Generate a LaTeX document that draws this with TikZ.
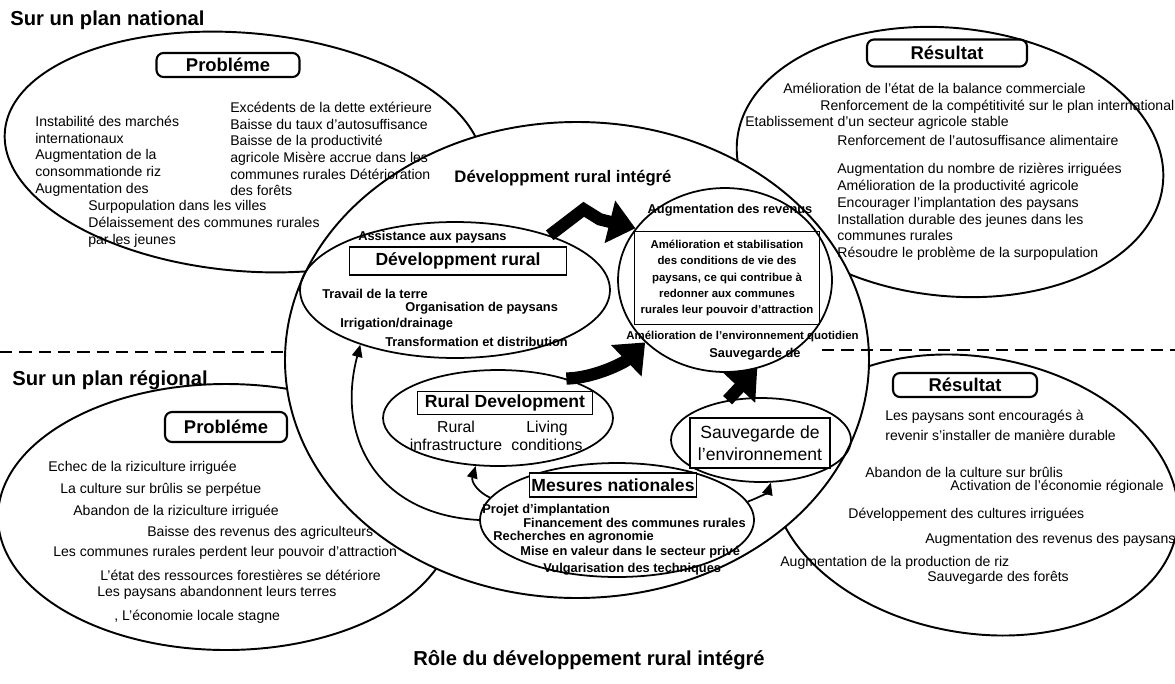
\documentclass[tikz,border=0pt]{standalone}
\usepackage{fontspec}
\setmainfont{Liberation Sans}
\usepackage{tikz}
\tikzset{
     arrow/.style={-{Triangle[length=7pt,width=6pt]}, line width=1pt},
     bigarrow/.style={-{Triangle[length=15pt,width=24pt]}, line width=7pt, line join=miter},
     txt/.style={anchor=west, inner sep=0pt, align=left, font=\fontsize{8}{9.5}\selectfont},
     btxt/.style={txt, font=\fontsize{7.3}{9}\selectfont\bfseries},
     titre/.style={inner sep=0pt, font=\fontsize{11.5}{13}\selectfont\bfseries},
     cadre/.style={draw, line width=1.2pt, rounded corners=4pt, inner sep=0pt, font=\fontsize{10.5}{12}\selectfont\bfseries},
     boite/.style={draw, fill=white, line width=0.9pt, inner sep=0pt, font=\fontsize{10}{12}\selectfont\bfseries},
     bulle/.style={draw, ellipse, line width=1pt, inner sep=0pt},
     contour/.style={line width=1.1pt}
     }
\usetikzlibrary{arrows.meta}
\usetikzlibrary{shapes.geometric}

\begin{document}
\begin{tikzpicture}[x=0.02cm, y=-0.02cm]
                    \useasboundingbox (0,0) rectangle (1175,683);
                    % Outer ellipses
                    \draw[contour, rotate around={-5:(244,152)}] (244,152) ellipse [x radius=240, y radius=119];
                    \draw[contour, rotate around={-6:(950,162)}] (950,162) ellipse [x radius=214, y radius=134];
                    \draw[contour] (226,517) ellipse [x radius=228, y radius=133];
                    \draw[contour, rotate around={-10:(975,495)}] (975,495) ellipse [x radius=205, y radius=138];
                    \draw[contour, fill=white] (577,360) ellipse [x radius=292, y radius=238];
                    \draw[line width=1pt, dash pattern=on 7pt off 4pt] (0,352) -- (287,352);
                    \draw[line width=1pt, dash pattern=on 7pt off 4pt] (822,350) -- (1175,350);
                    % Place nodes
                    \node[titre, anchor=west] (tnat) at (10,20) {Sur un plan national};
                    \node[cadre, minimum width=2.86cm, minimum height=0.48cm] (pb1) at (228,65) {Probléme};
                    \node[txt] (tl1) at (35,156) {Instabilité des marchés\\internationaux\\Augmentation de la\\consommationde riz\\Augmentation des};
                    \node[txt] (tl2) at (230,149) {Excédents de la dette extérieure\\Baisse du taux d'autosuffisance\\Baisse de la productivité\\agricole Misère accrue dans les\\communes rurales Détérioration\\des forêts};
                    \node[txt] (tl3) at (88,224) {Surpopulation dans les villes\\Délaissement des communes rurales\\par les jeunes};

                    \node[cadre, minimum width=3.2cm, minimum height=0.54cm] (res1) at (947,53) {Résultat};
                    \node[txt] (tr1) at (783,88) {Amélioration de l'état de la balance commerciale};
                    \node[txt] (tr2) at (820,107) {Renforcement de la compétitivité sur le plan international};
                    \node[txt] (tr3) at (745,123) {Etablissement d'un secteur agricole stable};
                    \node[txt] (tr4) at (837,140) {Renforcement de l'autosuffisance alimentaire};
                    \node[txt] (tr5) at (837,212) {Augmentation du nombre de rizières irriguées\\Amélioration de la productivité agricole\\Encourager l'implantation des paysans\\Installation durable des jeunes dans les\\communes rurales\\Résoudre le problème de la surpopulation};

                    \node[titre, font=\fontsize{9.5}{11}\selectfont\bfseries] (tdri) at (563,178) {Développment rural intégré};
                    \node[bulle, minimum width=6.2cm, minimum height=2.72cm] (devr) at (455,290) {};
                    \node[btxt] (assist) at (358,237) {Assistance aux paysans};
                    \node[boite, minimum width=4.34cm, minimum height=0.56cm] (devrbox) at (458,261) {Développment rural};
                    \node[btxt] (trav) at (322,294) {Travail de la terre};
                    \node[btxt] (orga) at (405,308) {Organisation de paysans};
                    \node[btxt] (irri) at (340,324) {Irrigation/drainage};
                    \node[btxt] (transf) at (385,342) {Transformation et distribution};

                    \node[bulle, minimum width=4.28cm, minimum height=3.68cm] (inner) at (725,280) {};
                    \node[btxt, anchor=center] (augrev) at (730,210) {Augmentation des revenus};
                    \node[draw, line width=0.9pt, align=center, inner sep=0pt, minimum width=3.7cm, minimum height=1.86cm, font=\fontsize{6.5}{9.2}\selectfont\bfseries] (ameliobox) at (727,278) {Amélioration et stabilisation\\des conditions de vie des\\paysans, ce qui contribue à\\redonner aux communes\\rurales leur pouvoir d'attraction};
                    \node[btxt, font=\fontsize{6.5}{8}\selectfont\bfseries] (amenv) at (626,336) {Amélioration de l'environnement quotidien};
                    \node[btxt, anchor=center] (sauvde) at (755,354) {Sauvegarde de};

                    \node[bulle, minimum width=4.6cm, minimum height=1.92cm] (ruraldev) at (498,418) {};
                    \node[boite, minimum width=3.5cm, minimum height=0.46cm] (rdbox) at (505,403) {Rural Development};
                    \node[align=center, inner sep=0pt, font=\fontsize{9}{10.2}\selectfont] (rinfra) at (456,436) {Rural\\infrastructure};
                    \node[align=center, inner sep=0pt, font=\fontsize{9}{10.2}\selectfont] (rliving) at (547,436) {Living\\conditions};

                    \node[bulle, minimum width=3.6cm, minimum height=1.68cm] (sauv) at (761,440) {};
                    \node[boite, align=center, minimum width=2.8cm, minimum height=1cm, font=\fontsize{10}{12.5}\selectfont] (sauvbox) at (760,443) {Sauvegarde de\\l'environnement};

                    \node[bulle, minimum width=5.48cm, minimum height=2.28cm] (mesures) at (617,520) {};
                    \node[boite, minimum width=3.34cm, minimum height=0.48cm] (mesbox) at (613,485) {Mesures nationales};
                    \node[btxt] (proj) at (482,510) {Projet d'implantation};
                    \node[btxt] (finan) at (523,523) {Financement des communes rurales};
                    \node[btxt] (rech) at (493,537) {Recherches en agronomie};
                    \node[btxt] (mise) at (520,552) {Mise en valeur dans le secteur privé};
                    \node[btxt] (vulg) at (543,569) {Vulgarisation des techniques};

                    \node[titre, anchor=west] (treg) at (12,380) {Sur un plan régional};
                    \node[cadre, minimum width=2.44cm, minimum height=0.6cm] (pb2) at (226,427) {Probléme};
                    \node[txt] (bl1) at (48,468) {Echec de la riziculture irriguée};
                    \node[txt] (bl2) at (60,490) {La culture sur brûlis se perpétue};
                    \node[txt] (bl3) at (73,512) {Abandon de la riziculture irriguée};
                    \node[txt] (bl4) at (147,533) {Baisse des revenus des agriculteurs};
                    \node[txt] (bl5) at (53,553) {Les communes rurales perdent leur pouvoir d'attraction};
                    \node[txt] (bl6) at (100,575) {L'état des ressources forestières se détériore};
                    \node[txt] (bl7) at (97,593) {Les paysans abandonnent leurs terres};
                    \node[txt] (bl8) at (114,617) {, L'économie locale stagne};

                    \node[cadre, minimum width=2.88cm, minimum height=0.48cm] (res2) at (965,385) {Résultat};
                    \node[txt] (br1) at (885,417) {Les paysans sont encouragés à};
                    \node[txt] (br2) at (885,435) {revenir s'installer de manière durable};
                    \node[txt] (br3) at (865,472) {Abandon de la culture sur brûlis};
                    \node[txt] (br4) at (950,487) {Activation de l'économie régionale};
                    \node[txt] (br5) at (848,515) {Développement des cultures irriguées};
                    \node[txt] (br6) at (925,540) {Augmentation des revenus des paysans};
                    \node[txt] (br7) at (780,563) {Augmentation de la production de riz};
                    \node[txt] (br8) at (927,578) {Sauvegarde des forêts};

                    \node[titre] (trole) at (589,660) {Rôle du développement rural intégré};
                    % Draw edges
                    \draw[bigarrow] (devr.30) -- ++(34,-26) -- ++(16,10) -- (inner.150);
                    \draw[bigarrow] (ruraldev.30) .. controls (595,378) and (625,362) .. (inner.218);
                    \draw[bigarrow] (sauv.130) -- (inner.290);
                    \draw[arrow] (mesures.180) .. controls (380,515) and (335,440) .. (devr.210);
                    \draw[arrow] (mesures.170) .. controls (478,492) and (471,482) .. (ruraldev.245);
                    \draw[arrow] (mesures.8) .. controls (760,497) and (768,492) .. (sauv.283);
                \end{tikzpicture}
\end{document}
